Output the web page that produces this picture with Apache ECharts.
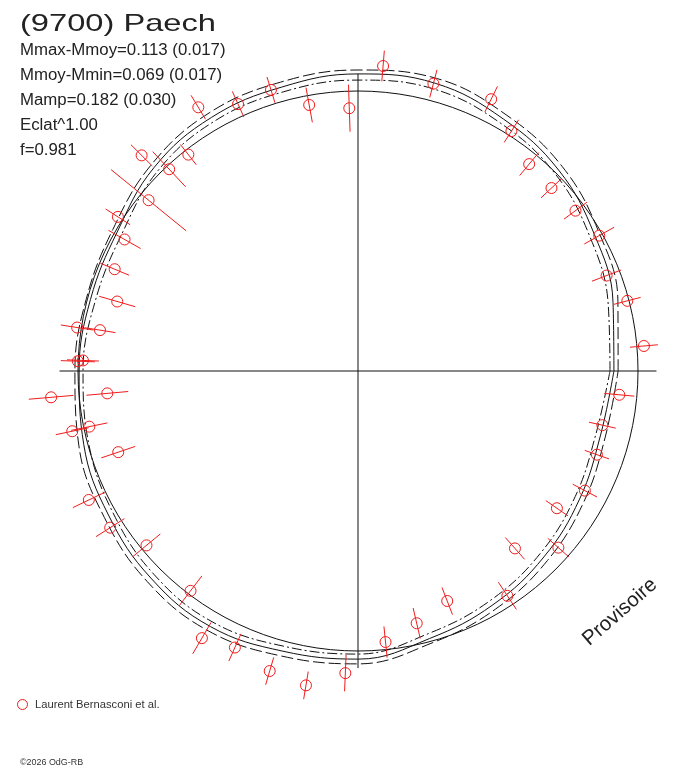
<!DOCTYPE html>
<html>
<head>
<meta charset="utf-8">
<title>(9700) Paech</title>
<script src="https://cdn.jsdelivr.net/npm/echarts/dist/echarts.min.js"></script>
<style>
  html, body { margin: 0; padding: 0; background: #fff; }
  #chart1 { width: 688px; height: 768px; }
</style>
</head>
<body>
<div id="chart1"></div>
<script>
function $(_) {return document.getElementById(_);}

// measured points: rotation phase (deg), relative flux, flux error
const phase = [107.2, 100.4, 91.9, 85.3, 75.3, 63.9, 57.4, 50.4, 43.4, 36.4, 29.3, 21.0, 14.6, 5.0,
  354.8, 347.5, 340.7, 332.2, 325.4, 318.6, 311.5, 303.6, 291.2, 283.1, 275.8, 267.6, 260.6, 253.6,
  246.0, 239.7, 232.7, 219.5, 212.3, 205.6, 198.7, 191.7, 191.9, 185.1, 184.9, 178.0, 177.8, 171.0,
  171.2, 163.9, 157.3, 150.6, 147.3, 140.8, 133.1, 135.1, 128.1, 121.2, 114.2];
const flux = [1.051, 0.966, 0.939, 1.093, 1.061, 1.081, 1.017, 0.959, 0.951, 0.965, 0.988, 0.951, 0.994, 1.025,
  0.937, 0.894, 0.904, 0.916, 0.863, 0.954, 0.846, 0.964, 0.881, 0.925, 0.973, 1.080, 1.138, 1.117,
  1.081, 1.105, 0.987, 0.979, 1.047, 1.066, 0.904, 0.980, 1.043, 0.899, 1.100, 1.001, 0.983, 0.933,
  1.015, 0.895, 0.942, 0.957, 1.019, 0.965, 0.987, 1.091, 0.982, 1.101, 1.045];
const fluxErr = [0.048, 0.063, 0.084, 0.055, 0.051, 0.051, 0.048, 0.053, 0.051, 0.051, 0.061, 0.056, 0.049, 0.050,
  0.054, 0.049, 0.046, 0.049, 0.048, 0.050, 0.052, 0.058, 0.052, 0.056, 0.056, 0.065, 0.050, 0.051,
  0.053, 0.065, 0.067, 0.064, 0.060, 0.063, 0.064, 0.066, 0.060, 0.075, 0.080, 0.061, 0.057, 0.056,
  0.059, 0.067, 0.056, 0.066, 0.052, 0.173, 0.086, 0.054, 0.046, 0.050, 0.050];

// fitted lightcurve and its envelope, read every 15 deg
const curvePhase = [0, 15, 30, 45, 60, 75, 90, 105, 120, 135, 150, 165, 180, 195, 210, 225, 240, 255, 270, 285, 300, 315, 330, 345, 360];
const fitHigh = [0.929, 0.961, 0.993, 1.032, 1.057, 1.082, 1.075, 1.068, 1.064, 1.043, 1.011, 1.004, 1.011, 1.032, 1.046, 1.064, 1.071, 1.054, 1.046, 1.007, 0.982, 0.957, 0.932, 0.914, 0.929];
const fitMid  = [0.914, 0.943, 0.975, 1.014, 1.039, 1.064, 1.061, 1.050, 1.046, 1.029, 0.993, 0.989, 0.996, 1.014, 1.029, 1.046, 1.054, 1.036, 1.029, 0.989, 0.964, 0.939, 0.914, 0.896, 0.914];
const fitLow  = [0.900, 0.925, 0.957, 0.996, 1.021, 1.043, 1.039, 1.032, 1.029, 1.011, 0.975, 0.971, 0.982, 0.996, 1.011, 1.029, 1.036, 1.018, 1.011, 0.971, 0.946, 0.921, 0.896, 0.879, 0.900];

const titleText = '(9700) Paech';
const statLines = ['Mmax-Mmoy=0.113 (0.017)', 'Mmoy-Mmin=0.069 (0.017)', 'Mamp=0.182 (0.030)', 'Eclat^1.00', 'f=0.981'];
const observer = 'Laurent Bernasconi et al.';

const FONT = '"Liberation Sans", Arial, sans-serif';
const RED = '#f01c1c';

function curveData(r) {
  return curvePhase.map((p, i) => [r[i], p]);
}

const echart1 = echarts.init($('chart1'), null, { renderer: 'canvas' });

const pointData = phase.map((p, i) => [flux[i], p, fluxErr[i]]);

const graphics = [
  { type: 'text', x: 20, y: 24, scaleX: 1.36,
    style: { text: titleText, fontSize: 24, fontFamily: FONT, fill: '#222', align: 'left', verticalAlign: 'middle' } }
];
statLines.forEach((t, i) => {
  graphics.push({ type: 'text', x: 20, y: 51 + i * 25, scaleX: 1.05,
    style: { text: t, fontSize: 16, fontFamily: FONT, fill: '#222', align: 'left', verticalAlign: 'middle' } });
});
graphics.push(
  { type: 'circle', shape: { cx: 22.5, cy: 704.5, r: 5 }, style: { fill: 'none', stroke: RED, lineWidth: 1 } },
  { type: 'text', x: 35, y: 705.5, scaleX: 1.12,
    style: { text: observer, fontSize: 10, fontFamily: FONT, fill: '#333', align: 'left', verticalAlign: 'middle' } },
  { type: 'text', x: 20, y: 763, scaleX: 1.05,
    style: { text: '\u00a92026 OdG-RB', fontSize: 8.5, fontFamily: FONT, fill: '#333', align: 'left', verticalAlign: 'middle' } },
  { type: 'text', x: 620, y: 612, rotation: 41 * Math.PI / 180,
    style: { text: 'Provisoire', fontSize: 20.5, fontFamily: FONT, fill: '#222', align: 'center', verticalAlign: 'middle' } }
);

option = {
  backgroundColor: '#fff',
  animation: false,
  polar: { center: [358, 371], radius: 560 },
  angleAxis: {
    type: 'value', min: 0, max: 360, startAngle: 0, clockwise: false,
    axisLine: { show: false }, axisTick: { show: false }, axisLabel: { show: false },
    splitLine: { show: false }
  },
  radiusAxis: {
    type: 'value', min: 0, max: 2, interval: 1,
    axisLine: { show: false }, axisTick: { show: false }, axisLabel: { show: false },
    // circle of mean brightness
    splitLine: { show: true, lineStyle: { color: '#111', width: 1 } }
  },
  graphic: graphics,
  series: [
    { type: 'line', coordinateSystem: 'polar', data: [[1.066, 0], [1.066, 180]], symbol: 'none',
      lineStyle: { color: '#111', width: 1 }, silent: true },
    { type: 'line', coordinateSystem: 'polar', data: [[1.061, 90], [1.061, 270]], symbol: 'none',
      lineStyle: { color: '#111', width: 1 }, silent: true },
    { type: 'line', coordinateSystem: 'polar', data: curveData(fitHigh), symbol: 'none', smooth: 0.4,
      lineStyle: { color: '#111', width: 1, type: [12, 4] } },
    { type: 'line', coordinateSystem: 'polar', data: curveData(fitMid), symbol: 'none', smooth: 0.4,
      lineStyle: { color: '#111', width: 1 } },
    { type: 'line', coordinateSystem: 'polar', data: curveData(fitLow), symbol: 'none', smooth: 0.4,
      lineStyle: { color: '#111', width: 1, type: [10, 3, 2, 3] } },
    {
      type: 'custom', coordinateSystem: 'polar', z: 5,
      encode: { radius: 0, angle: 1 },
      data: pointData,
      renderItem: function (params, api) {
        const r = api.value(0), a = api.value(1), e = api.value(2);
        const c = api.coord([r, a]);
        const p1 = api.coord([r - e, a]);
        const p2 = api.coord([r + e, a]);
        return {
          type: 'group',
          children: [
            { type: 'line', shape: { x1: p1[0], y1: p1[1], x2: p2[0], y2: p2[1] },
              style: { stroke: RED, lineWidth: 1 } },
            { type: 'circle', shape: { cx: c[0], cy: c[1], r: 5.5 },
              style: { fill: 'none', stroke: RED, lineWidth: 1 } }
          ]
        };
      }
    }
  ]
};

echart1.setOption(option);
</script>
</body>
</html>
